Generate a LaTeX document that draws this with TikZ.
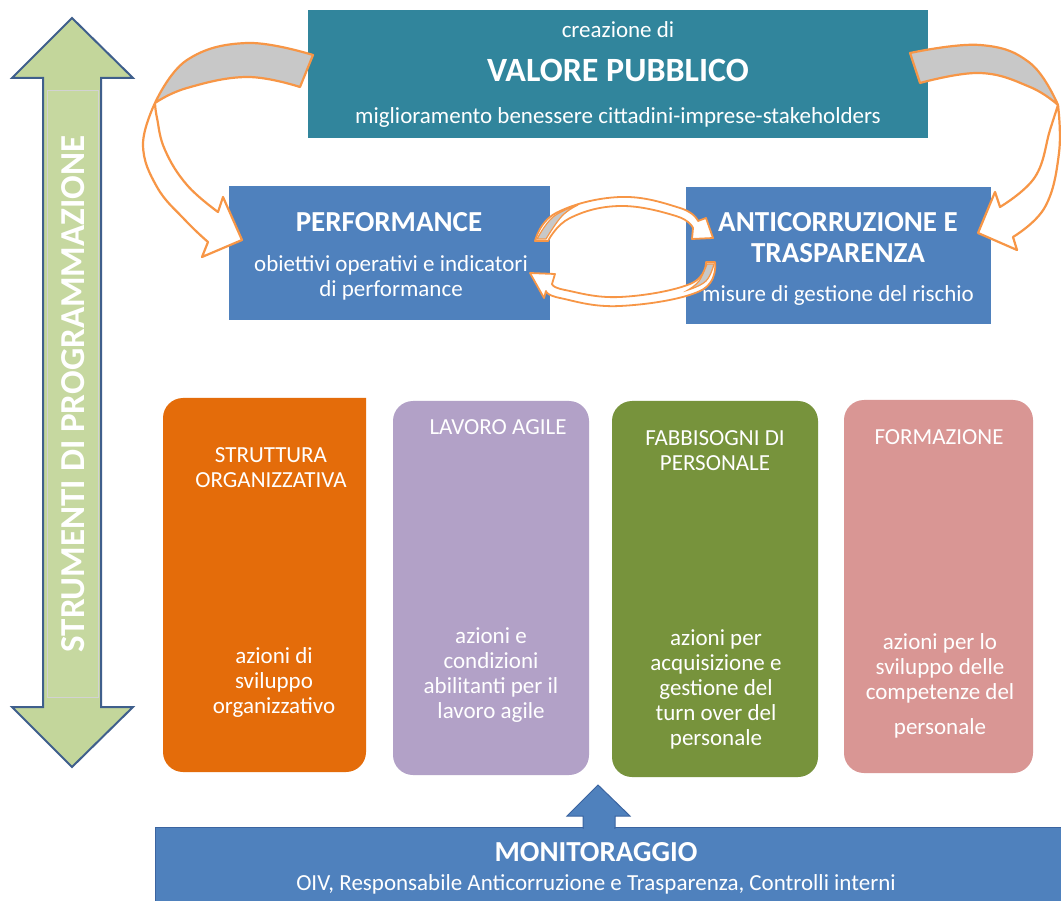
\documentclass[tikz,border=0pt]{standalone}
\usepackage{fontspec}
\setmainfont{Carlito}
\definecolor{teal1}{HTML}{31859C}
\definecolor{blue1}{HTML}{4F81BD}
\definecolor{blueedge}{HTML}{3B64A0}
\definecolor{orange1}{HTML}{E46C0A}
\definecolor{purple1}{HTML}{B2A1C7}
\definecolor{green1}{HTML}{77933C}
\definecolor{pink1}{HTML}{D99694}
\definecolor{arrgreen}{HTML}{C3D69B}
\definecolor{arredge}{HTML}{3F5F8C}
\definecolor{ribbon}{HTML}{F79646}
\definecolor{ribgray}{HTML}{C8C8C8}
\newcommand{\fs}[1]{\fontsize{#1}{25}\selectfont}
\begin{document}
\begin{tikzpicture}[x=1pt,y=-1pt,
  box/.style={rectangle, inner sep=0pt, draw=none},
  txt/.style={text=white, align=center, inner sep=0pt},
  rib/.style={draw=ribbon, line width=2.2pt, line join=round},
  card/.style={box, rounded corners=20pt}]
\useasboundingbox (0,0) rectangle (1061,901);
\fill[white] (0,0) rectangle (1061,901);

% ---- double arrow (left)
\filldraw[fill=arrgreen, draw=arredge, line width=2pt, line join=miter]
  (72,18) -- (133,78) -- (101,78) -- (101,707) -- (133,707) -- (72,767)
  -- (12,707) -- (43,707) -- (43,78) -- (12,78) -- cycle;
\filldraw[fill=arrgreen!95!white, draw=gray!35, line width=0.8pt] (47,90) rectangle (98,697);
\node[txt, rotate=90, font=\bfseries\fs{35}] (strum) at (73,394) {STRUMENTI DI PROGRAMMAZIONE};

% ---- top box
\node[box, fill=teal1, minimum width=620pt, minimum height=128pt] (valore) at (618,74) {};
\node[txt, font=\fs{23}] (crea) at (618,30) {creazione di};
\node[txt, font=\bfseries\fs{34}] (vp) at (618,70) {VALORE PUBBLICO};
\node[txt, font=\fs{23}] (mig) at (618,117) {miglioramento benessere cittadini-imprese-stakeholders};

% ---- performance / anticorruzione
\node[box, fill=blue1, minimum width=321pt, minimum height=134pt] (perf) at (389.5,253) {};
\node[txt, font=\bfseries\fs{29}] (perft) at (389,222) {PERFORMANCE};
\node[txt, font=\fs{23}] (perfs) at (391,277.5) {obiettivi operativi e indicatori\\di performance};
\node[box, fill=blue1, minimum width=305pt, minimum height=137pt] (anti) at (838.5,255.5) {};
\node[txt, font=\bfseries\fs{29}, text depth=0pt] (antit) at (838,237.5) {ANTICORRUZIONE E\\[6pt]TRASPARENZA};
\node[txt, font=\fs{23}] (antis) at (838,295) {misure di gestione del rischio};

% ---- big ribbon arrows
% left
\filldraw[rib, fill=ribgray] (313,55) -- plot[smooth, tension=0.7] coordinates {(313,55) (247,43) (187,60) (155,103)}
  -- plot[smooth, tension=0.7] coordinates {(155,103) (187,88) (247,77) (300,87)} -- cycle;
\filldraw[rib, fill=white] (155,103) -- plot[smooth, tension=0.7] coordinates {(155,103) (143,145) (157,187) (185,220) (208,242)}
  -- (202,257) -- (242,240) -- (223,197) -- (218,212)
  -- plot[smooth, tension=0.7] coordinates {(218,212) (187,185) (165,150) (157,118) (155,103)} -- cycle;
% right
\filldraw[rib, fill=ribgray] (910,53) -- plot[smooth, tension=0.7] coordinates {(910,53) (980,45) (1030,63) (1058,105)}
  -- plot[smooth, tension=0.7] coordinates {(1058,105) (1030,87) (980,73) (920,83)} -- cycle;
\filldraw[rib, fill=white] (1058,105) -- plot[smooth, tension=0.7] coordinates {(1058,105) (1059,153) (1045,207) (1013,237)}
  -- (1017,250) -- (978,233) -- (995,192) -- (1000,207)
  -- plot[smooth, tension=0.7] coordinates {(1000,207) (1035,177) (1050,130) (1058,105)} -- cycle;

% ---- small ribbon arrows between perf and anti
\filldraw[rib, line width=1.8pt, fill=white] (535,241) -- plot[smooth, tension=0.7] coordinates {(535,241) (556,213) (620,197) (680,208) (698,221)}
  -- (706,218) -- (713,238) -- (692,239) -- (693,228)
  -- plot[smooth, tension=0.7] coordinates {(693,228) (676,216) (620,206) (570,218) (548,241)} -- cycle;
\filldraw[draw=ribbon, line width=1.2pt, fill=ribgray] (537,239) -- plot[smooth, tension=0.7] coordinates {(537,239) (553,217) (578,205)}
  -- plot[smooth, tension=0.7] coordinates {(578,205) (562,216) (546,239)} -- cycle;
\filldraw[rib, line width=1.8pt, fill=white] (715,262) -- plot[smooth, tension=0.7] coordinates {(715,262) (700,291) (620,306) (560,298) (546,291)}
  -- (544,298) -- (530,273) -- (555,274) -- (552,284)
  -- plot[smooth, tension=0.7] coordinates {(552,284) (565,290) (620,297) (690,284) (706,262)} -- cycle;
\filldraw[draw=ribbon, line width=1.2pt, fill=ribgray] (714,264) -- plot[smooth, tension=0.7] coordinates {(714,264) (706,281) (688,290)}
  -- plot[smooth, tension=0.7] coordinates {(688,290) (699,281) (707,264)} -- cycle;

% ---- bottom cards
\path[fill=orange1, rounded corners=20pt] (163,772) -- (163,398) -- (300,398) [sharp corners] -- (366,398) [rounded corners=20pt] -- (366,772) -- cycle;
\node[box, minimum width=203pt, minimum height=374pt] (strut) at (264.5,585) {};
\node[txt, font=\fs{23}] (strutt) at (271,467.5) {STRUTTURA\\ORGANIZZATIVA};
\node[txt, font=\fs{23}] (struts) at (274,682) {azioni di\\sviluppo\\organizzativo};

\node[card, fill=purple1, minimum width=196pt, minimum height=374pt] (lav) at (491,588) {};
\node[txt, font=\fs{23}] (lavt) at (498,427) {LAVORO AGILE};
\node[txt, font=\fs{23}] (lavs) at (491,675) {azioni e\\condizioni\\abilitanti per il\\lavoro agile};

\node[card, fill=green1, minimum width=206pt, minimum height=376pt] (fab) at (715,589) {};
\node[txt, font=\fs{23}] (fabt) at (715,450.5) {FABBISOGNI DI\\PERSONALE};
\node[txt, font=\fs{23}] (fabs) at (716,689) {azioni per\\acquisizione e\\gestione del\\turn over del\\personale};

\node[card, fill=pink1, minimum width=189pt, minimum height=373pt] (form) at (938.5,586.5) {};
\node[txt, font=\fs{23}] (formt) at (939,437) {FORMAZIONE};
\node[txt, font=\fs{23}] (forms) at (940,686) {azioni per lo\\sviluppo delle\\competenze del\\[10pt]personale};

% ---- monitoraggio
\node[box, fill=blue1, draw=blueedge, line width=0.8pt, minimum width=906pt, minimum height=76pt] (mon) at (608,865) {};
\filldraw[fill=blue1, draw=blueedge, line width=1pt] (598,785) -- (630,816) -- (615,816) -- (615,828)
  -- (583,828) -- (583,816) -- (567,816) -- cycle;
\fill[blue1] (584,822) rectangle (614,829);
\node[txt, font=\bfseries\fs{29}] (mont) at (596,852) {MONITORAGGIO};
\node[txt, font=\fs{23}] (mons) at (596,884) {OIV, Responsabile Anticorruzione e Trasparenza, Controlli interni};
\end{tikzpicture}
\end{document}
